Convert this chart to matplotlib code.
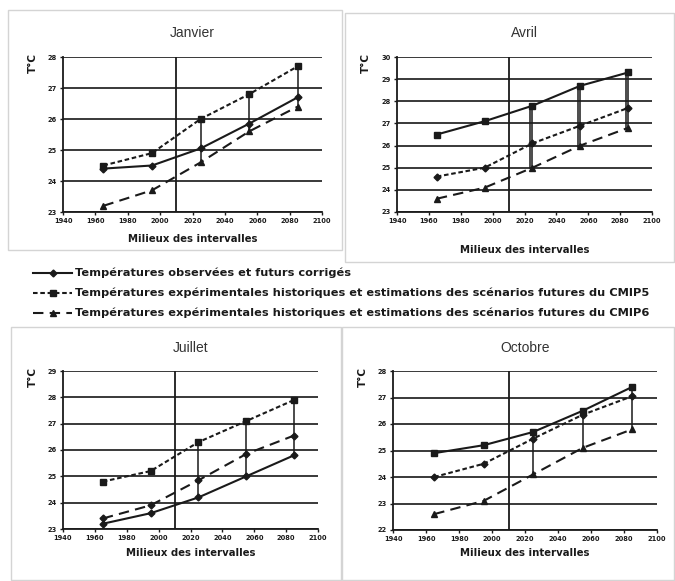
import matplotlib
matplotlib.use("Agg")
import matplotlib.pyplot as plt
from matplotlib.patches import Rectangle
from matplotlib.lines import Line2D

plt.rcParams['font.family'] = ['Liberation Sans', 'DejaVu Sans']

W, H = 675, 581

years = [1965, 1995, 2025, 2055, 2085]
future_years = [2025, 2055, 2085]
xticks = [1940, 1960, 1980, 2000, 2020, 2040, 2060, 2080, 2100]

months = ["Janvier", "Avril", "Juillet", "Octobre"]

jan_obs = [24.4, 24.5, 25.05, 25.85, 26.7]
jan_cmip5 = [24.5, 24.9, 26.0, 26.8, 27.7]
jan_cmip6 = [23.2, 23.7, 24.6, 25.6, 26.4]

avr_obs = [26.5, 27.1, 27.8, 28.7, 29.3]
avr_cmip5 = [24.6, 25.0, 26.1, 26.9, 27.7]
avr_cmip6 = [23.6, 24.1, 25.0, 26.0, 26.8]

jul_obs = [23.2, 23.6, 24.2, 25.0, 25.8]
jul_cmip5 = [24.8, 25.2, 26.3, 27.1, 27.9]
jul_cmip6 = [23.4, 23.9, 24.85, 25.85, 26.55]

oct_obs = [24.9, 25.2, 25.7, 26.5, 27.4]
oct_cmip5 = [24.0, 24.5, 25.45, 26.35, 27.05]
oct_cmip6 = [22.6, 23.1, 24.1, 25.1, 25.8]

yranges = {"Janvier": (23, 28), "Avril": (23, 30), "Juillet": (23, 29), "Octobre": (22, 28)}

legend_labels = [
    "Températures observées et futurs corrigés",
    "Températures expérimentales historiques et estimations des scénarios futures du CMIP5",
    "Températures expérimentales historiques et estimations des scénarios futures du CMIP6",
]

col = "#1a1a1a"
ls_solid = "-"
ls_dot = (0, (2.2, 1.3))
ls_dash = (0, (5, 3))

fig = plt.figure(figsize=(W / 100, H / 100), dpi=100)

def frac(x0, y0, x1, y1):
    return [x0 / W, 1 - y1 / H, (x1 - x0) / W, (y1 - y0) / H]

# panel boxes
for (bx0, by0, bx1, by1) in [(8, 10, 342, 250), (345, 13, 674, 262), (11, 327, 341, 580), (342, 327, 674, 580)]:
    fig.patches.append(Rectangle((bx0 / W, 1 - by1 / H), (bx1 - bx0) / W, (by1 - by0) / H,
                                 transform=fig.transFigure, fill=False, ec="#d4d4d4", lw=1.0))

panels = {
    "Janvier": dict(rect=(63, 57, 322, 212), title_y=33, xl_y=239, yl_x=33,
                    series=[(jan_obs, ls_solid, "D"), (jan_cmip5, ls_dot, "s"), (jan_cmip6, ls_dash, "^")], double=False),
    "Avril": dict(rect=(397, 57, 652, 212), title_y=33, xl_y=250, yl_x=366,
                  series=[(avr_obs, ls_solid, "s"), (avr_cmip5, ls_dot, "D"), (avr_cmip6, ls_dash, "^")], double=True),
    "Juillet": dict(rect=(63, 371, 318, 529), title_y=348, xl_y=553, yl_x=33,
                    series=[(jul_obs, ls_solid, "D"), (jul_cmip5, ls_dot, "s"), (jul_cmip6, ls_dash, "D")], double=False),
    "Octobre": dict(rect=(393, 371, 657, 530), title_y=348, xl_y=553, yl_x=363,
                    series=[(oct_obs, ls_solid, "s"), (oct_cmip5, ls_dot, "D"), (oct_cmip6, ls_dash, "^")], double=False),
}

for m in months:
    p = panels[m]
    x0, y0, x1, y1 = p["rect"]
    ax = fig.add_axes(frac(x0, y0, x1, y1))
    lo, hi = yranges[m]
    ax.set_xlim(1940, 2100)
    ax.set_ylim(lo, hi)
    ax.set_xticks(xticks)
    ax.set_yticks(range(lo, hi + 1))
    ax.tick_params(axis="both", labelsize=5, length=2.5, width=1, colors=col, pad=2)
    for lab in ax.get_xticklabels() + ax.get_yticklabels():
        lab.set_fontweight("bold")
        lab.set_family(["DejaVu Sans"])
        lab.set_fontsize(4.8)
    ax.grid(axis="y", color="#2a2a2a", lw=1.3)
    ax.set_axisbelow(True)
    for s in ["top", "right"]:
        ax.spines[s].set_visible(False)
    for s in ["left", "bottom"]:
        ax.spines[s].set_color(col)
        ax.spines[s].set_linewidth(1.3)
    ax.axvline(2010, color=col, lw=1.3)
    # range bars at future points
    for yr in future_years:
        i = years.index(yr)
        vals = [s[0][i] for s in p["series"]]
        ax.plot([yr, yr], [min(vals), max(vals)], color=col, lw=1.1, zorder=3)
        if p["double"]:
            ax.plot([yr - 1.5, yr - 1.5], [min(vals), max(vals)], color=col, lw=1.1, zorder=3)
    for vals, ls, mk in p["series"]:
        ax.plot(years, vals, linestyle=ls, color=col, lw=1.5, marker=mk,
                markersize=3.5 if mk == "D" else 4.2, zorder=4)
    ax.set_facecolor("none")
    fig.text((x0 + x1) / 2 / W, 1 - p["title_y"] / H, m, ha="center", va="center", fontsize=10, color="#333333")
    fig.text((x0 + x1) / 2 / W, 1 - p["xl_y"] / H, "Milieux des intervalles", ha="center", va="center",
             fontsize=7.3, fontweight="bold", color=col, family=["DejaVu Sans"])
    fig.text(p["yl_x"] / W, 1 - (y0 + 6) / H, "T°C", ha="center", va="center", rotation=90,
             fontsize=7.5, fontweight="bold", color=col, family=["DejaVu Sans"])

# legend
leg_styles = [(ls_solid, "D"), (ls_dot, "s"), (ls_dash, "^")]
for k, (lab, (ls, mk)) in enumerate(zip(legend_labels, leg_styles)):
    yy = 1 - [273, 293, 313][k] / H
    fig.add_artist(Line2D([33 / W, 72 / W], [yy, yy], transform=fig.transFigure, color=col, lw=1.5, linestyle=ls))
    fig.add_artist(Line2D([53 / W], [yy], transform=fig.transFigure, color=col, marker=mk,
                          markersize=3.5 if mk == "D" else 4.2, linestyle="none"))
    fig.text(75 / W, yy, lab, ha="left", va="center", fontsize=8.2, fontweight="bold", color=col,
             family=["DejaVu Sans"])

fig.savefig("out.png", dpi=100)
